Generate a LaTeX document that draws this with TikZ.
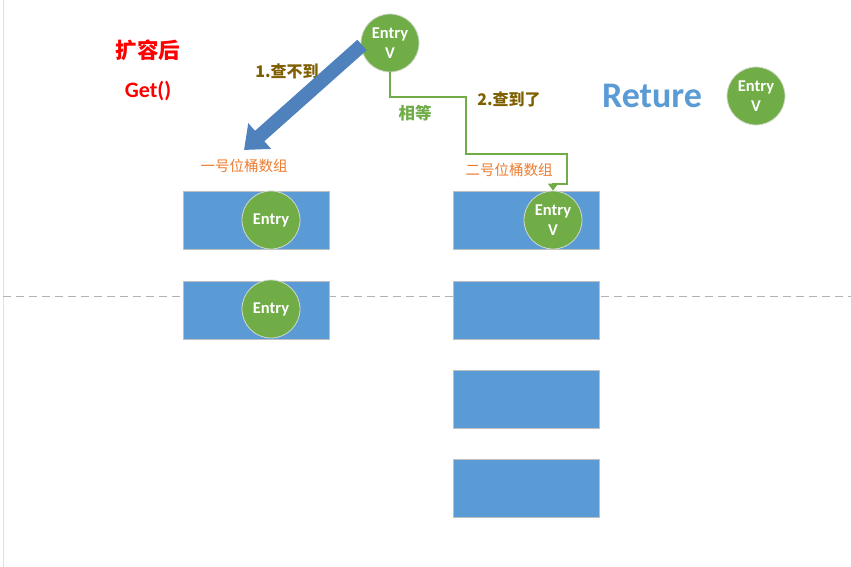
\documentclass[tikz,border=0pt]{standalone}
\usepackage{fontspec}
\setmainfont{Carlito}
\newfontfamily\cjk{Noto Sans CJK SC}
\usetikzlibrary{arrows.meta}
\definecolor{rectblue}{HTML}{5B9BD5}
\definecolor{entgreen}{HTML}{70AD47}
\definecolor{arrowblue}{HTML}{4F81BD}
\definecolor{olivetext}{HTML}{7F6000}
\definecolor{orangetext}{HTML}{ED7D31}
\definecolor{redtext}{HTML}{FF0000}
\definecolor{returnblue}{HTML}{5B9BD5}
\definecolor{rectborder}{HTML}{BFBFBF}
\definecolor{circborder}{HTML}{D0D8CC}
\definecolor{edgegray}{HTML}{E1E1E1}
\definecolor{guidegray}{HTML}{B2B2B2}
\begin{document}
\begin{tikzpicture}[x=1pt,y=-1pt,
  bucket/.style={draw=rectborder, fill=rectblue, minimum width=146pt, minimum height=58pt, inner sep=0pt, line width=0.8pt},
  entry/.style={circle, fill=entgreen, draw=circborder, line width=0.8pt, minimum size=58pt, inner sep=0pt, text=white, font=\bfseries\fontsize{16.5}{19.5}\selectfont, align=center},
  redlabel/.style={text=redtext, font=\bfseries\fontsize{22}{24}\selectfont},
  steplabel/.style={text=olivetext, font=\cjk\bfseries\fontsize{16}{18}\selectfont},
  arraylabel/.style={text=orangetext, font=\cjk\fontsize{14.5}{16}\selectfont},
  gline/.style={draw=entgreen, line width=2pt, -{Triangle[length=7pt,width=10pt]}},
  bigarrow/.style={draw=arrowblue, line width=14pt, -{Triangle[length=21pt,width=33pt]}},
  guide/.style={draw=guidegray, line width=0.9pt, dash pattern=on 8pt off 5pt}
]
\useasboundingbox (0,0) rectangle (851,567);
\fill[white] (0,0) rectangle (851,567);
\draw[draw=edgegray, line width=0.6pt] (3,0) -- (3,567);
\draw[guide] (3,296) -- (851,296);

% buckets
\node[bucket] (b1a) at (256,220) {};
\node[bucket] (b1b) at (256,310) {};
\node[bucket] (b2a) at (526,220) {};
\node[bucket] (b2b) at (526,310) {};
\node[bucket] (b2c) at (526,399) {};
\node[bucket] (b2d) at (526,488) {};

% entries
\node[entry] (e1a) at (271,220) {Entry};
\node[entry] (e1b) at (271,309) {Entry};
\node[entry] (e2a) at (553,220) {Entry\\V};
\node[entry] (e0) at (390,43) {Entry\\V};
\node[entry] (er) at (756,96) {Entry\\V};

% labels
\node[redlabel, font=\cjk\bfseries\fontsize{21.5}{24}\selectfont] (t1) at (148,50) {扩容后};
\node[redlabel] (t2) at (148,91) {Get()};
\node[steplabel] (s1) at (287,71) {1.查不到};
\node[steplabel] (s2) at (509,99) {2.查到了};
\node[text=entgreen, font=\cjk\bfseries\fontsize{16.5}{18}\selectfont] (eq) at (415,113) {相等};
\node[arraylabel] (a1) at (244,166) {一号位桶数组};
\node[arraylabel] (a2) at (509,170) {二号位桶数组};
\node[text=returnblue, font=\bfseries\fontsize{36}{40}\selectfont] (ret) at (652,96) {Reture};

% big blue arrow
\coordinate (as) at (362,45);
\coordinate (ae) at (244,150);
\draw[bigarrow] (as) -- (ae);

% green connector
\coordinate (g1) at (466,97);
\coordinate (g2) at (567,154);
\coordinate (g3) at (553,184);
\draw[gline] (e0.south) |- (g1) |- (g2) |- (g3) -- (e2a.north);
\end{tikzpicture}
\end{document}
